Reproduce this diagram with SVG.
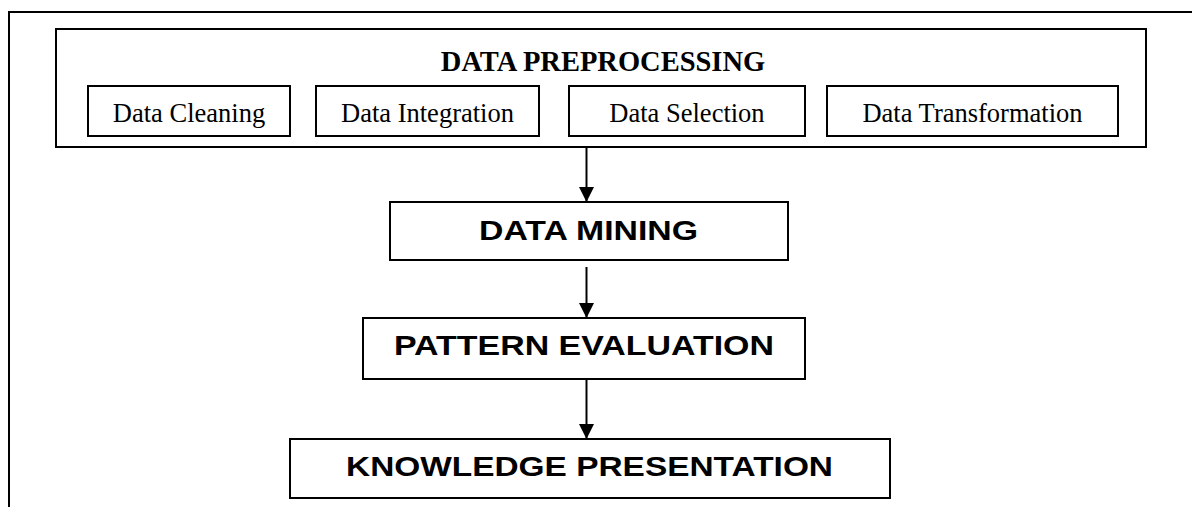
<svg xmlns="http://www.w3.org/2000/svg" width="1192" height="507" viewBox="0 0 1192 507">
<defs>
<style>
.box{fill:#fff;stroke:#000;stroke-width:2}
.sub{font-family:"Liberation Serif","Times New Roman",serif;font-size:26.5px;fill:#000;text-anchor:middle}
.title{font-family:"Liberation Serif","Times New Roman",serif;font-size:28.5px;font-weight:bold;fill:#000;text-anchor:middle}
.big{font-family:"Liberation Sans",Arial,sans-serif;font-size:28px;font-weight:bold;fill:#000;text-anchor:middle}
.conn{stroke:#000;stroke-width:2;fill:none}
</style>
<marker id="arr" markerUnits="userSpaceOnUse" markerWidth="15" markerHeight="15" refX="15" refY="7.5" orient="auto">
<path d="M0,0 L15,7.5 L0,15 z" fill="#000"/>
</marker>
</defs>
<rect width="1192" height="507" fill="#fff"/>
<g id="frame">
<path d="M9,507 L9,12 L1192,12" class="conn"/>
</g>
<g id="preprocessing">
<rect class="box" x="56" y="29" width="1090" height="118"/>
<text class="title" x="603" y="71">DATA PREPROCESSING</text>
</g>
<g id="cleaning">
<rect class="box" x="88" y="86" width="202" height="50"/>
<text class="sub" x="189" y="122">Data Cleaning</text>
</g>
<g id="integration">
<rect class="box" x="316" y="86" width="223" height="50"/>
<text class="sub" x="427.5" y="122">Data Integration</text>
</g>
<g id="selection">
<rect class="box" x="569" y="86" width="236" height="50"/>
<text class="sub" x="687" y="122">Data Selection</text>
</g>
<g id="transformation">
<rect class="box" x="827" y="86" width="291" height="50"/>
<text class="sub" x="972.5" y="122">Data Transformation</text>
</g>
<g id="mining">
<rect class="box" x="390" y="202" width="398" height="58"/>
<text class="big" x="588.5" y="240" textLength="219" lengthAdjust="spacingAndGlyphs">DATA MINING</text>
</g>
<g id="pattern">
<rect class="box" x="363" y="318" width="442" height="61"/>
<text class="big" x="584" y="355" textLength="380" lengthAdjust="spacingAndGlyphs">PATTERN EVALUATION</text>
</g>
<g id="knowledge">
<rect class="box" x="290" y="439" width="600" height="59"/>
<text class="big" x="589.5" y="476" textLength="487" lengthAdjust="spacingAndGlyphs">KNOWLEDGE PRESENTATION</text>
</g>
<g id="connectors">
<line class="conn" x1="586.5" y1="148" x2="586.5" y2="202" marker-end="url(#arr)"/>
<line class="conn" x1="586.5" y1="267" x2="586.5" y2="318" marker-end="url(#arr)"/>
<line class="conn" x1="586.5" y1="380" x2="586.5" y2="439" marker-end="url(#arr)"/>
</g>
</svg>
